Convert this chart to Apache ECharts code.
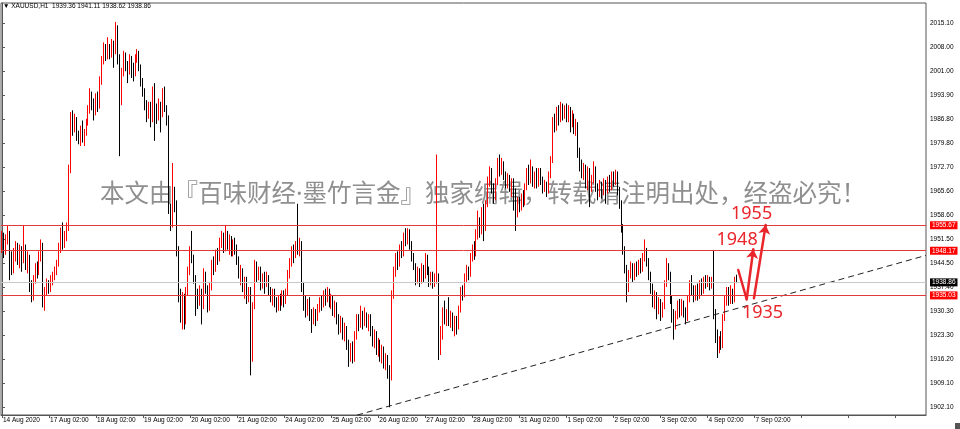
<!DOCTYPE html>
<html><head><meta charset="utf-8">
<script src="https://cdn.jsdelivr.net/npm/echarts@6/dist/echarts.min.js"></script>
<style>html,body{margin:0;padding:0;background:#fff}#c{width:960px;height:429px}</style>
</head><body><div id="c"></div>
<script>
// ---------- data ----------
const symbolTitle = '\u25BC XAUUSD,H1  1939.36 1941.11 1938.62 1938.86';
const dayLabels = ['14 Aug 2020','17 Aug 02:00','18 Aug 02:00','19 Aug 02:00','20 Aug 02:00','21 Aug 02:00',
  '24 Aug 02:00','25 Aug 02:00','26 Aug 02:00','27 Aug 02:00','28 Aug 02:00','31 Aug 02:00',
  '1 Sep 02:00','2 Sep 02:00','3 Sep 02:00','4 Sep 02:00','7 Sep 02:00'];
const barsPerDay = 24;
const totalSlots = 472;
const yTicks = [1902.10,1909.10,1916.20,1923.30,1930.30,1937.40,1944.50,1951.50,1958.60,1965.60,
  1972.70,1979.80,1986.80,1993.90,2001.00,2008.00,2015.10];
const yMin = 1899.83, yMax = 2021.08;
const redLevels = [1955.67, 1948.17, 1935.03];
const bidPrice = 1938.86;
// hourly bars: [open, close, low, high]
const ohlc = [
// 14 Aug
[1950.5,1952.0,1947.5,1954.0],[1952.0,1948.0,1946.0,1953.5],[1948.0,1951.5,1947.0,1953.0],[1951.5,1953.0,1950.0,1955.5],
[1953.0,1946.0,1939.5,1954.0],[1946.0,1942.5,1941.0,1948.0],[1942.5,1947.0,1941.5,1949.0],[1947.0,1949.5,1945.0,1951.0],
[1949.5,1945.5,1944.0,1950.5],[1945.5,1948.5,1943.0,1950.0],[1948.5,1946.0,1942.0,1949.5],[1946.0,1949.0,1944.5,1955.5],
[1949.0,1945.0,1942.5,1950.0],[1945.0,1946.5,1941.5,1948.0],[1946.5,1938.0,1936.0,1947.0],[1938.0,1934.5,1933.0,1939.5],
[1934.5,1940.0,1933.5,1941.0],[1940.0,1943.5,1938.5,1944.5],[1943.5,1942.0,1940.0,1945.0],[1942.0,1947.0,1941.0,1948.0],
[1947.0,1950.0,1945.0,1951.5],[1950.0,1933.5,1931.5,1950.5],[1933.5,1936.5,1930.5,1937.5],[1936.5,1938.5,1935.0,1940.0],
// 17 Aug
[1938.5,1937.0,1935.5,1939.5],[1937.0,1939.5,1936.0,1941.0],[1939.5,1941.0,1938.0,1942.0],[1941.0,1942.5,1939.5,1943.5],
[1942.5,1944.5,1941.0,1945.5],[1944.5,1949.0,1943.5,1950.5],[1949.0,1953.0,1947.5,1955.0],[1953.0,1950.5,1948.5,1956.5],
[1950.5,1952.5,1949.0,1954.0],[1952.5,1955.0,1951.0,1956.5],[1955.0,1972.5,1954.0,1973.5],[1972.5,1987.5,1971.0,1989.0],
[1987.5,1984.0,1982.0,1989.5],[1984.0,1986.5,1983.0,1988.5],[1986.5,1982.0,1980.5,1987.5],[1982.0,1980.5,1979.5,1983.5],
[1980.5,1984.0,1979.0,1985.0],[1984.0,1981.0,1980.0,1986.5],[1981.0,1983.5,1979.0,1984.0],[1983.5,1986.0,1982.0,1987.0],
[1986.0,1990.0,1985.0,1991.0],[1990.0,1994.0,1988.5,1996.0],[1994.0,1991.0,1989.5,1995.0],[1991.0,1989.5,1986.5,1993.0],
// 18 Aug
[1989.5,1993.0,1988.0,1994.5],[1993.0,1991.0,1989.0,1995.0],[1991.0,1998.5,1990.0,1999.5],[1998.5,2004.0,1997.0,2005.5],
[2004.0,2007.5,2003.0,2009.5],[2007.5,2005.5,2004.0,2009.0],[2005.5,2008.0,2004.5,2011.0],[2008.0,2006.0,2004.5,2009.0],
[2006.0,2008.5,2005.0,2010.5],[2008.5,2007.0,2002.0,2010.0],[2007.0,2013.5,2006.0,2015.5],[2013.5,2005.0,2003.0,2014.5],
[2005.0,1992.5,1976.0,2006.0],[1992.5,2000.5,1991.0,2002.0],[2000.5,2005.5,1999.5,2007.0],[2005.5,2003.0,2001.0,2006.5],
[2003.0,2001.0,1997.5,2004.0],[2001.0,2004.5,2000.0,2006.0],[2004.5,2002.0,1999.0,2005.5],[2002.0,2000.5,1998.0,2003.5],
[2000.5,2005.0,1999.5,2006.0],[2005.0,2006.0,2003.5,2007.5],[2006.0,2002.0,2001.0,2007.0],[2002.0,1998.0,1996.5,2003.0],
// 19 Aug
[1998.0,1995.0,1993.5,1999.0],[1995.0,1991.0,1989.5,1996.0],[1991.0,1988.0,1986.0,1992.5],[1988.0,1990.5,1987.0,1992.0],
[1990.5,1987.0,1984.5,1992.0],[1987.0,1993.5,1986.0,1996.5],[1993.5,1990.0,1980.5,1997.5],[1990.0,1988.0,1985.5,1991.5],
[1988.0,1991.5,1986.5,1993.0],[1991.5,1988.5,1983.0,1992.0],[1988.5,1994.5,1987.5,1996.0],[1994.5,1990.0,1989.0,1996.5],
[1990.0,1987.0,1985.0,1991.0],[1987.0,1960.5,1959.0,1988.0],[1960.5,1956.0,1954.0,1962.0],[1956.0,1965.5,1955.0,1974.0],
[1965.5,1962.0,1959.5,1967.0],[1962.0,1948.5,1946.5,1963.0],[1948.5,1935.0,1933.0,1949.5],[1935.0,1929.0,1927.0,1937.0],
[1929.0,1933.5,1925.0,1936.0],[1933.5,1927.5,1925.0,1935.5],[1927.5,1936.5,1926.5,1937.5],[1936.5,1942.0,1935.0,1943.5],
// 20 Aug
[1942.0,1948.5,1941.0,1949.5],[1948.5,1946.0,1944.5,1954.0],[1946.0,1940.0,1938.5,1947.0],[1940.0,1935.0,1929.0,1941.0],
[1935.0,1933.0,1931.0,1937.0],[1933.0,1936.0,1932.0,1938.0],[1936.0,1932.0,1926.5,1937.0],[1932.0,1941.0,1931.0,1943.0],
[1941.0,1937.0,1935.5,1942.0],[1937.0,1931.5,1930.0,1938.0],[1931.5,1938.0,1930.5,1939.0],[1938.0,1944.5,1936.5,1945.5],
[1944.5,1943.0,1941.0,1946.5],[1943.0,1947.5,1942.0,1948.5],[1947.5,1946.0,1944.0,1949.0],[1946.0,1950.5,1945.0,1952.0],
[1950.5,1952.5,1949.0,1954.0],[1952.5,1949.0,1947.5,1953.5],[1949.0,1953.0,1948.0,1955.7],[1953.0,1950.0,1948.5,1954.0],
[1950.0,1951.5,1947.0,1953.0],[1951.5,1948.0,1946.5,1952.5],[1948.0,1950.5,1946.5,1951.5],[1950.5,1949.0,1947.0,1952.0],
// 21 Aug
[1949.0,1945.5,1944.0,1950.0],[1945.5,1941.5,1940.0,1946.5],[1941.5,1942.5,1938.0,1944.0],[1942.5,1938.0,1936.0,1943.0],
[1938.0,1939.5,1934.0,1940.5],[1939.5,1935.0,1932.5,1940.5],[1935.0,1936.5,1933.0,1937.5],[1936.5,1917.0,1911.5,1937.5],
[1917.0,1932.0,1915.5,1933.0],[1932.0,1944.5,1931.0,1945.5],[1944.5,1940.5,1939.0,1945.0],[1940.5,1942.5,1939.5,1943.5],
[1942.5,1938.5,1936.5,1943.5],[1938.5,1940.5,1937.0,1941.5],[1940.5,1939.0,1935.5,1942.0],[1939.0,1940.5,1937.5,1942.0],
[1940.5,1936.5,1935.0,1941.0],[1936.5,1934.5,1933.0,1937.5],[1934.5,1936.0,1932.0,1937.0],[1936.0,1933.0,1931.5,1937.0],
[1933.0,1931.5,1930.0,1934.5],[1931.5,1934.0,1930.5,1935.0],[1934.0,1932.5,1930.5,1935.5],[1932.5,1935.0,1932.0,1936.5],
// 24 Aug
[1935.0,1933.5,1931.5,1936.5],[1933.5,1936.0,1932.5,1937.0],[1936.0,1941.5,1935.0,1942.5],[1941.5,1945.0,1940.0,1946.0],
[1945.0,1948.5,1943.5,1949.5],[1948.5,1947.0,1944.5,1950.0],[1947.0,1950.0,1946.0,1951.0],[1950.0,1949.0,1947.0,1962.0],
[1949.0,1950.5,1946.5,1952.0],[1950.5,1938.0,1936.0,1951.0],[1938.0,1933.5,1930.5,1939.0],[1933.5,1931.0,1928.5,1935.0],
[1931.0,1933.0,1929.0,1934.0],[1933.0,1929.5,1927.5,1934.5],[1929.5,1928.0,1924.0,1931.0],[1928.0,1930.0,1926.5,1931.5],
[1930.0,1928.5,1926.0,1931.0],[1928.5,1931.5,1927.5,1932.5],[1931.5,1933.5,1930.0,1934.5],[1933.5,1932.5,1930.5,1935.0],
[1932.5,1935.5,1931.5,1936.5],[1935.5,1934.0,1932.0,1937.0],[1934.0,1936.5,1933.0,1937.5],[1936.5,1933.0,1931.5,1937.0],
// 25 Aug
[1933.0,1934.5,1931.0,1935.5],[1934.5,1930.5,1929.0,1935.0],[1930.5,1932.0,1928.5,1933.5],[1932.0,1928.0,1926.5,1933.0],
[1928.0,1926.0,1923.5,1929.5],[1926.0,1927.5,1924.0,1929.0],[1927.5,1924.5,1922.0,1928.5],[1924.5,1925.5,1921.5,1927.0],
[1925.5,1921.0,1919.0,1926.0],[1921.0,1917.0,1914.0,1922.0],[1917.0,1919.5,1915.5,1921.0],[1919.5,1916.5,1915.0,1921.5],
[1916.5,1923.5,1915.5,1924.5],[1923.5,1928.0,1922.0,1929.5],[1928.0,1926.5,1924.5,1929.5],[1926.5,1929.5,1925.5,1932.0],
[1929.5,1927.5,1925.0,1930.5],[1927.5,1929.0,1926.0,1931.5],[1929.0,1927.0,1925.5,1930.0],[1927.0,1928.5,1924.5,1929.5],
[1928.5,1925.0,1923.0,1929.5],[1925.0,1922.0,1920.0,1926.0],[1922.0,1923.5,1919.5,1925.0],[1923.5,1919.5,1917.5,1924.5],
// 26 Aug
[1919.5,1921.0,1917.0,1922.5],[1921.0,1917.5,1915.5,1922.0],[1917.5,1919.0,1915.0,1920.5],[1919.0,1915.5,1913.5,1920.0],
[1915.5,1916.5,1913.0,1918.0],[1916.5,1913.0,1910.5,1917.5],[1913.0,1911.0,1902.1,1914.5],[1911.0,1935.5,1910.0,1936.5],
[1935.5,1942.5,1934.0,1943.5],[1942.5,1946.0,1940.5,1947.5],[1946.0,1944.5,1942.5,1948.0],[1944.5,1949.0,1943.5,1950.0],
[1949.0,1947.5,1946.0,1951.0],[1947.5,1952.5,1946.5,1953.5],[1952.5,1951.0,1949.5,1954.8],[1951.0,1953.5,1950.0,1954.8],
[1953.5,1950.0,1948.5,1954.5],[1950.0,1946.5,1945.0,1951.0],[1946.5,1943.5,1942.5,1947.5],[1943.5,1940.0,1938.0,1944.5],
[1940.0,1942.0,1938.5,1943.5],[1942.0,1939.5,1937.5,1943.0],[1939.5,1943.0,1938.5,1944.5],[1943.0,1941.0,1939.0,1944.0],
// 27 Aug
[1941.0,1946.0,1940.0,1947.5],[1946.0,1942.5,1941.0,1947.0],[1942.5,1939.0,1937.5,1943.5],[1939.0,1941.0,1938.0,1942.0],
[1941.0,1938.5,1937.0,1942.0],[1938.5,1940.0,1937.5,1941.5],[1940.0,1941.0,1938.5,1976.5],[1941.0,1920.5,1916.0,1941.5],
[1920.5,1925.0,1917.5,1926.0],[1925.0,1930.5,1922.0,1931.5],[1930.5,1928.0,1926.5,1933.5],[1928.0,1930.0,1926.0,1931.0],
[1930.0,1927.5,1926.0,1934.5],[1927.5,1929.0,1925.5,1930.5],[1929.0,1926.5,1924.5,1930.0],[1926.5,1928.0,1923.0,1929.0],
[1928.0,1926.0,1923.5,1929.0],[1926.0,1931.0,1925.0,1932.0],[1931.0,1936.5,1930.0,1937.5],[1936.5,1935.5,1933.5,1938.0],
[1935.5,1940.5,1934.5,1941.5],[1940.5,1942.5,1939.0,1944.0],[1942.5,1941.5,1939.5,1943.5],[1941.5,1946.5,1940.5,1947.5],
// 28 Aug
[1946.5,1949.0,1945.0,1950.0],[1949.0,1947.5,1945.5,1951.0],[1947.5,1953.0,1946.5,1954.5],[1953.0,1956.5,1951.5,1960.0],
[1956.5,1954.0,1952.0,1958.0],[1954.0,1959.5,1953.0,1961.0],[1959.5,1955.0,1951.0,1962.0],[1955.0,1962.0,1954.0,1963.0],
[1962.0,1968.5,1961.0,1970.0],[1968.5,1971.5,1967.0,1973.0],[1971.5,1967.0,1965.0,1972.5],[1967.0,1964.0,1962.0,1968.0],
[1964.0,1968.5,1963.0,1969.5],[1968.5,1974.0,1967.5,1975.5],[1974.0,1971.5,1970.0,1976.5],[1971.5,1973.5,1970.5,1975.5],
[1973.5,1970.5,1969.0,1974.5],[1970.5,1968.0,1966.5,1971.5],[1968.0,1969.5,1966.5,1971.0],[1969.5,1967.0,1965.5,1970.5],
[1967.0,1968.5,1964.0,1969.5],[1968.5,1966.0,1960.0,1969.5],[1966.0,1960.0,1954.0,1966.5],[1960.0,1962.5,1958.0,1964.0],
// 31 Aug
[1962.5,1961.0,1959.5,1964.0],[1961.0,1964.0,1960.0,1965.0],[1964.0,1962.5,1961.0,1966.0],[1962.5,1967.0,1961.5,1968.0],
[1967.0,1971.5,1966.0,1972.5],[1971.5,1969.0,1967.5,1973.5],[1969.0,1972.0,1968.0,1975.0],[1972.0,1968.5,1967.0,1973.0],
[1968.5,1970.5,1966.5,1971.5],[1970.5,1968.0,1966.5,1972.5],[1968.0,1971.0,1967.0,1972.5],[1971.0,1969.0,1967.5,1972.5],
[1969.0,1966.5,1965.0,1970.0],[1966.5,1967.5,1965.5,1969.0],[1967.5,1966.0,1964.0,1968.5],[1966.0,1970.5,1965.0,1971.5],
[1970.5,1975.0,1969.5,1976.0],[1975.0,1986.5,1974.0,1987.5],[1986.5,1984.5,1983.0,1988.5],[1984.5,1989.0,1983.5,1990.5],
[1989.0,1987.0,1985.0,1991.0],[1987.0,1990.5,1986.0,1992.0],[1990.5,1988.5,1986.5,1991.5],[1988.5,1990.0,1987.0,1991.0],
// 1 Sep
[1990.0,1987.5,1986.0,1991.5],[1987.5,1989.5,1986.0,1991.0],[1989.5,1986.0,1983.0,1990.5],[1986.0,1988.0,1984.5,1989.5],
[1988.0,1984.0,1982.5,1988.5],[1984.0,1985.5,1982.0,1987.0],[1985.5,1977.0,1975.5,1986.0],[1977.0,1973.5,1971.5,1978.5],
[1973.5,1971.0,1969.5,1975.0],[1971.0,1972.5,1969.0,1974.0],[1972.5,1968.5,1966.5,1973.5],[1968.5,1971.5,1966.0,1973.0],
[1971.5,1966.5,1961.0,1972.5],[1966.5,1969.5,1965.5,1970.5],[1969.5,1972.0,1968.0,1974.5],[1972.0,1967.0,1965.5,1973.0],
[1967.0,1965.0,1963.0,1968.0],[1965.0,1967.5,1964.0,1969.0],[1967.5,1965.5,1963.5,1968.5],[1965.5,1968.0,1964.5,1969.5],
[1968.0,1966.0,1962.0,1969.0],[1966.0,1969.0,1965.0,1970.0],[1969.0,1967.0,1965.5,1970.5],[1967.0,1970.5,1966.0,1971.5],
// 2 Sep
[1970.5,1968.5,1967.0,1971.5],[1968.5,1971.0,1967.5,1972.0],[1971.0,1966.0,1964.5,1971.5],[1966.0,1962.5,1960.5,1967.0],
[1962.5,1955.0,1953.5,1963.0],[1955.0,1948.5,1947.0,1956.0],[1948.5,1943.0,1941.5,1949.5],[1943.0,1938.5,1933.0,1944.0],
[1938.5,1941.5,1936.0,1942.5],[1941.5,1944.0,1940.0,1945.0],[1944.0,1940.5,1939.0,1944.5],[1940.5,1943.5,1939.5,1944.5],
[1943.5,1942.0,1940.5,1945.0],[1942.0,1944.5,1941.0,1945.5],[1944.5,1943.0,1941.5,1946.0],[1943.0,1946.5,1942.0,1947.5],
[1946.5,1948.0,1945.0,1951.5],[1948.0,1945.0,1943.5,1949.0],[1945.0,1941.0,1939.5,1946.0],[1941.0,1937.5,1935.5,1942.0],
[1937.5,1933.5,1931.5,1938.5],[1933.5,1935.5,1931.0,1936.5],[1935.5,1931.0,1928.0,1936.0],[1931.0,1933.0,1929.5,1934.5],
// 3 Sep
[1933.0,1930.0,1927.5,1934.0],[1930.0,1932.0,1928.5,1933.0],[1932.0,1938.5,1931.0,1939.5],[1938.5,1943.5,1937.5,1946.0],
[1943.5,1941.0,1939.5,1944.5],[1941.0,1934.0,1932.5,1942.0],[1934.0,1929.5,1927.0,1935.0],[1929.5,1926.0,1922.0,1931.0],
[1926.0,1929.5,1925.0,1930.5],[1929.5,1932.5,1928.0,1933.5],[1932.5,1930.0,1928.5,1934.0],[1930.0,1933.0,1929.0,1934.0],
[1933.0,1930.5,1928.5,1933.5],[1930.5,1928.5,1926.5,1931.5],[1928.5,1934.0,1927.5,1935.0],[1934.0,1938.5,1933.0,1939.5],
[1938.5,1937.0,1935.0,1941.0],[1937.0,1934.5,1933.0,1938.0],[1934.5,1937.0,1933.5,1938.0],[1937.0,1935.0,1933.5,1938.5],
[1935.0,1938.5,1934.0,1939.5],[1938.5,1936.5,1935.0,1940.0],[1936.5,1939.5,1935.5,1940.5],[1939.5,1938.5,1937.0,1941.0],
// 4 Sep
[1938.5,1940.0,1937.5,1941.0],[1940.0,1938.0,1936.5,1940.5],[1938.0,1939.5,1937.0,1940.5],[1939.5,1930.0,1928.0,1948.4],
[1930.0,1923.0,1921.0,1931.0],[1923.0,1918.5,1916.6,1925.0],[1918.5,1921.5,1918.0,1923.0],[1921.5,1920.0,1919.0,1924.5],
[1920.0,1928.5,1919.5,1929.5],[1928.5,1933.5,1927.5,1935.0],[1933.5,1936.0,1932.0,1937.5],[1936.0,1933.5,1932.0,1937.5],
[1933.5,1936.5,1932.5,1938.0],[1936.5,1933.5,1932.5,1937.0],[1933.5,1939.4,1933.0,1940.5],[1939.36,1938.86,1938.62,1941.11]
];
// drawn objects, in [bar index, price]
const trendPts = [[181.2, 1899.8], [471.5, 1946.8]];
const forecastPathA = [[375.7, 1942.5], [380.0, 1933.9], [383.4, 1948.6]];
const forecastPathB = [[383.7, 1934.2], [389.7, 1955.75]];
const targetTexts = ['1955', '1948', '1935'];
const targetAt = [[382.5, 1959.1], [375.1, 1951.5], [388.1, 1929.85]];
const watermark = '本文由『百味财经·墨竹言金』独家编辑，转载请注明出处，经盗必究！';

// ---------- chart ----------
const RED = '#ff0000', ARROW = '#e8262b', LVL = '#e23a3a';
const FONT = 'Liberation Sans';
const cats = Array.from({length: totalSlots}, (_, i) => String(i));
const chart = echarts.init(document.getElementById('c'), null, {renderer: 'canvas'});

const levelLines = redLevels.map(v => ({
  yAxis: v,
  lineStyle: {color: LVL, width: 1, type: 'solid'},
  label: {show: true, position: 'end', distance: 4, formatter: v.toFixed(2), color: '#fff',
    backgroundColor: RED, padding: [1, 2, 0, 2], fontSize: 6.5, fontFamily: FONT}
}));
levelLines.push({
  yAxis: bidPrice,
  lineStyle: {color: '#c8c8c8', width: 1, type: 'solid'},
  label: {show: true, position: 'end', distance: 4, formatter: bidPrice.toFixed(2), color: '#fff',
    backgroundColor: '#000', padding: [1, 2, 0, 2], fontSize: 6.5, fontFamily: FONT}
});

const noSym = {symbol: 'none'};
const arrowLines = [
  [Object.assign({coord: forecastPathA[0]}, noSym), Object.assign({coord: forecastPathA[1]}, noSym)],
  [Object.assign({coord: forecastPathA[1]}, noSym), {coord: forecastPathA[2]}],
  [Object.assign({coord: forecastPathB[0]}, noSym), {coord: forecastPathB[1]}]
];

chart.setOption({
  animation: false,
  backgroundColor: '#fff',
  title: {text: symbolTitle, left: 3, top: 3, padding: 0,
    textStyle: {fontSize: 6.5, fontWeight: 'normal', color: '#000', fontFamily: FONT}},
  grid: {left: 1, right: 34, top: 3, bottom: 14, show: true, borderColor: '#555', borderWidth: 1,
    backgroundColor: 'transparent'},
  graphic: [
    {type: 'text', left: 100, top: 183, z: -1, silent: true,
      style: {text: watermark, fontSize: 24.5, fontFamily: '"Noto Sans", "Noto Sans CJK SC"', fill: '#8f8f8f'}},
    {type: 'rect', right: 0, bottom: 0, shape: {width: 5, height: 6}, style: {fill: '#555'}}
  ],
  xAxis: [{
    type: 'category', data: cats, boundaryGap: true,
    axisLine: {lineStyle: {color: '#555'}},
    axisTick: {show: true, alignWithLabel: true, length: 3, interval: i => i % barsPerDay === 0,
      lineStyle: {color: '#555'}},
    axisLabel: {interval: i => i % barsPerDay === 0, formatter: (v, i) => dayLabels[i / barsPerDay] || '',
      align: 'left', margin: 2, fontSize: 6.5, color: '#000', fontFamily: FONT, padding: [0, 0, 0, 1]},
    splitLine: {show: false}
  }, {
    type: 'value', min: -0.5, max: totalSlots - 0.5, show: false
  }],
  yAxis: {
    type: 'value', position: 'right', min: yMin, max: yMax, scale: true,
    axisLine: {show: true, lineStyle: {color: '#555'}},
    axisTick: {show: true, length: 3, customValues: yTicks, lineStyle: {color: '#555'}},
    axisLabel: {customValues: yTicks, formatter: v => v.toFixed(2), margin: 4, fontSize: 6.5,
      color: '#000', fontFamily: FONT},
    splitLine: {show: false}
  },
  series: [{
    type: 'candlestick', xAxisIndex: 0, data: ohlc, barWidth: 1,
    itemStyle: {color: RED, color0: '#000', borderColor: RED, borderColor0: '#000', borderWidth: 1},
    markLine: {silent: true, symbol: ['none', 'none'], data: levelLines}
  }, {
    type: 'line', xAxisIndex: 1, data: trendPts, symbol: 'none', silent: true,
    lineStyle: {color: '#222', width: 1, type: [6, 4]},
    markLine: {silent: true, symbol: ['none', 'arrow'], symbolSize: 9,
      lineStyle: {color: ARROW, width: 2.5, type: 'solid', cap: 'round'},
      label: {show: false}, data: arrowLines},
    markPoint: {silent: true, symbol: 'circle', symbolSize: 1, itemStyle: {color: 'transparent'},
      label: {show: true, position: 'inside', color: ARROW, fontSize: 18, fontFamily: 'Noto Sans'},
      data: targetTexts.map((t, k) => ({coord: targetAt[k], value: t, label: {formatter: t}}))}
  }]
});
</script></body></html>
